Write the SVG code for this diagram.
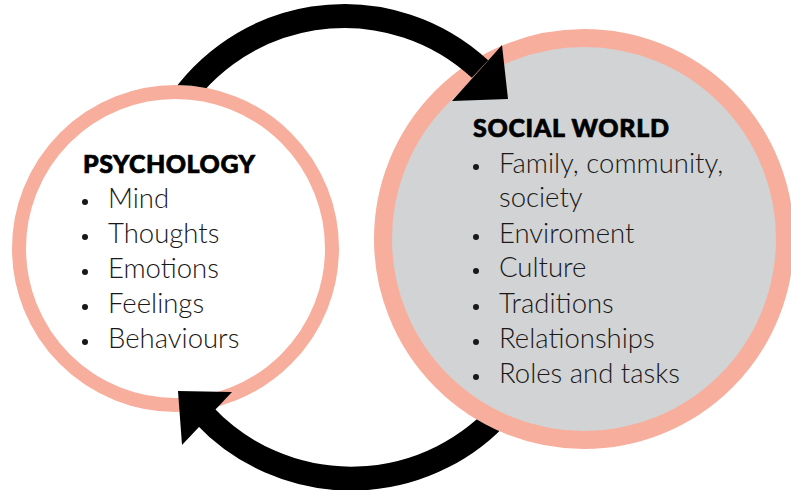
<svg xmlns="http://www.w3.org/2000/svg" width="791" height="490" viewBox="0 0 791 490">
<style>
.ring{stroke:#F8AE9D;}
.head{font-family:Lato,"Noto Sans","Liberation Sans",sans-serif;font-weight:900;font-size:25px;fill:#000;stroke:#000;stroke-width:0.7;}
.item{font-family:Lato,"Noto Sans","Liberation Sans",sans-serif;font-weight:300;font-size:27.5px;fill:#1A1718;}
.dot{fill:#1A1718;}
.shaft{fill:none;stroke:#000;stroke-width:24;}
.arrowhead{fill:#000;}
</style>
<defs>
<clipPath id="clipLeft">
<path clip-rule="evenodd" d="M0 0H791V490H0Z M12 248.5a163.5 163.5 0 1 0 327 0a163.5 163.5 0 1 0 -327 0Z"/>
</clipPath>
<clipPath id="clipRight">
<path clip-rule="evenodd" d="M0 0H791V490H0Z M374 239a210 210 0 1 0 420 0a210 210 0 1 0 -420 0Z"/>
</clipPath>
</defs>
<g id="psychology">
<circle class="ring" cx="175.5" cy="248.5" r="156.5" fill="#fff" stroke-width="14"/>
<text class="head" x="83" y="173" textLength="172">PSYCHOLOGY</text>
<circle class="dot" cx="85" cy="202" r="3"/>
<text class="item" x="108" y="208">Mind</text>
<circle class="dot" cx="85" cy="237" r="3"/>
<text class="item" x="108" y="243">Thoughts</text>
<circle class="dot" cx="85" cy="272" r="3"/>
<text class="item" x="108" y="278">Emotions</text>
<circle class="dot" cx="85" cy="307" r="3"/>
<text class="item" x="108" y="313">Feelings</text>
<circle class="dot" cx="85" cy="342" r="3"/>
<text class="item" x="108" y="348">Behaviours</text>
</g>
<g id="social-world">
<circle class="ring" cx="584" cy="239" r="201" fill="#D1D3D4" stroke-width="18"/>
<text class="head" x="473" y="137" textLength="196">SOCIAL WORLD</text>
<circle class="dot" cx="476" cy="167" r="3"/>
<text class="item" x="499" y="173">Family, community,</text>
<text class="item" x="499" y="207">society</text>
<circle class="dot" cx="476" cy="237" r="3"/>
<text class="item" x="499" y="243">Enviroment</text>
<circle class="dot" cx="476" cy="271" r="3"/>
<text class="item" x="499" y="277">Culture</text>
<circle class="dot" cx="476" cy="307" r="3"/>
<text class="item" x="499" y="313">Traditions</text>
<circle class="dot" cx="476" cy="342" r="3"/>
<text class="item" x="499" y="348">Relationships</text>
<circle class="dot" cx="476" cy="377" r="3"/>
<text class="item" x="499" y="383">Roles and tasks</text>
</g>
<g id="connectors">
<g id="arrow-top">
<path class="shaft" clip-path="url(#clipLeft)" d="M170 118A200 200 0 0 1 480 69"/>
<polygon class="arrowhead" points="502,45 508,99 452,101"/>
</g>
<g id="arrow-bottom">
<path class="shaft" clip-path="url(#clipRight)" d="M505.7 406.8A202 202 0 0 1 204 415"/>
<polygon class="arrowhead" points="178,391 232,392 182,445"/>
</g>
</g>
</svg>
